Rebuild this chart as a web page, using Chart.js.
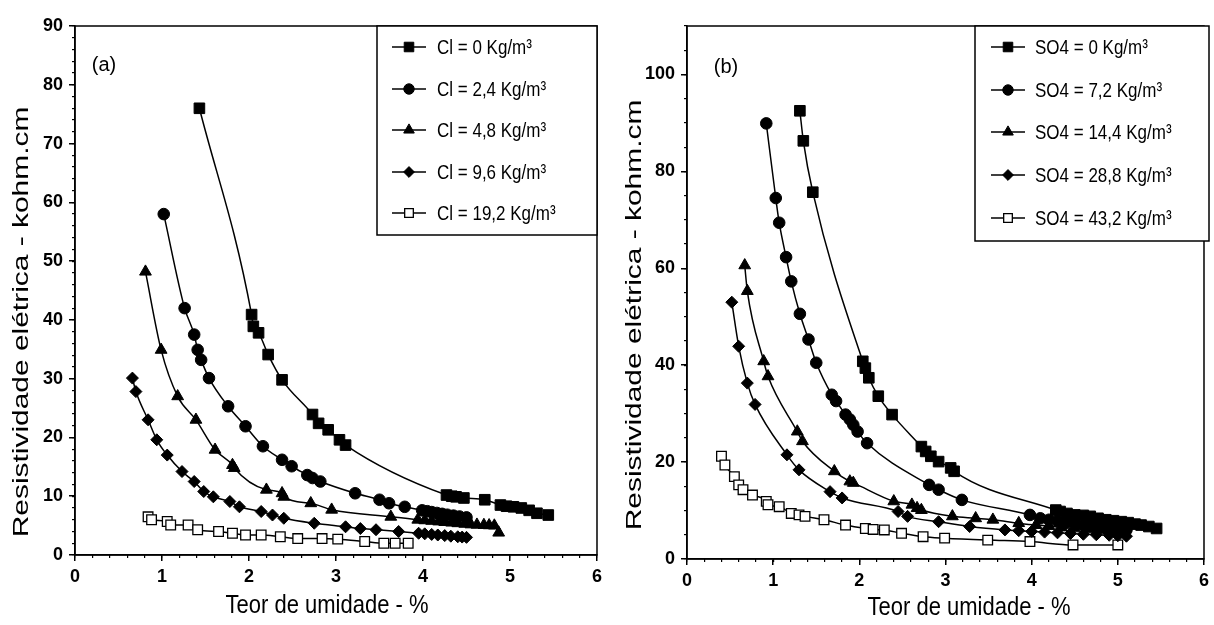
<!DOCTYPE html>
<html>
<head>
<meta charset="utf-8">
<script src="https://cdn.jsdelivr.net/npm/chart.js@4.4.1/dist/chart.umd.min.js"></script>
<style>
  body { margin: 0; background: #fff; }
  #caixaA { position: absolute; left: 0; top: 0; }
  #caixaB { position: absolute; left: 607px; top: 0; }
</style>
</head>
<body>
<div id="caixaA"><canvas id="grafCloreto" width="607" height="625"></canvas></div>
<div id="caixaB"><canvas id="grafSulfato" width="607" height="625"></canvas></div>
<script>
// ---- (a) cloretos ----
const rotulosCl = ['Cl = 0 Kg/m³', 'Cl = 2,4 Kg/m³', 'Cl = 4,8 Kg/m³', 'Cl = 9,6 Kg/m³', 'Cl = 19,2 Kg/m³'];

const cl0X = [1.43, 2.03, 2.05, 2.11, 2.22, 2.38, 2.73, 2.80, 2.91, 3.04, 3.11, 4.27, 4.33, 4.38, 4.47, 4.71, 4.89, 4.96, 5.04, 5.13, 5.22, 5.31, 5.44];
const cl0Y = [76, 40.9, 38.9, 37.8, 34.1, 29.8, 23.9, 22.4, 21.3, 19.6, 18.7, 10.2, 10.0, 9.9, 9.7, 9.4, 8.5, 8.3, 8.2, 8.0, 7.6, 7.1, 6.8];

const cl24X = [1.02, 1.26, 1.37, 1.41, 1.45, 1.54, 1.76, 1.96, 2.16, 2.38, 2.49, 2.67, 2.73, 2.82, 3.22, 3.50, 3.61, 3.79, 3.99, 4.05, 4.10, 4.16, 4.22, 4.28, 4.35, 4.42, 4.50];
const cl24Y = [58, 42, 37.5, 34.9, 33.2, 30.1, 25.3, 21.9, 18.5, 16.2, 15.1, 13.6, 13.1, 12.5, 10.5, 9.4, 8.8, 8.2, 7.6, 7.45, 7.3, 7.15, 7.0, 6.85, 6.7, 6.55, 6.4];

const cl48X = [0.81, 0.99, 1.18, 1.39, 1.61, 1.81, 1.83, 2.20, 2.38, 2.40, 2.71, 2.95, 3.63, 3.94, 4.02, 4.10, 4.18, 4.25, 4.33, 4.40, 4.48, 4.55, 4.62, 4.70, 4.76, 4.82, 4.87];
const cl48Y = [48.2, 34.9, 27.0, 23.0, 17.9, 15.3, 14.8, 11.1, 10.5, 9.9, 8.8, 7.7, 6.5, 6.0, 5.9, 5.8, 5.7, 5.6, 5.5, 5.4, 5.3, 5.2, 5.15, 5.1, 5.05, 5.0, 3.8];

const cl96X = [0.66, 0.70, 0.84, 0.94, 1.06, 1.23, 1.37, 1.48, 1.59, 1.78, 1.89, 2.14, 2.27, 2.40, 2.75, 3.11, 3.28, 3.46, 3.72, 3.95, 4.02, 4.10, 4.17, 4.25, 4.32, 4.40, 4.45, 4.50];
const cl96Y = [30.1, 27.8, 23.0, 19.6, 17.0, 14.2, 12.5, 10.8, 9.9, 9.1, 8.2, 7.4, 6.8, 6.25, 5.4, 4.8, 4.5, 4.3, 4.0, 3.7, 3.6, 3.5, 3.4, 3.3, 3.2, 3.1, 3.05, 3.0];

const cl192X = [0.84, 0.88, 1.06, 1.10, 1.30, 1.41, 1.65, 1.81, 1.96, 2.14, 2.36, 2.56, 2.84, 3.02, 3.33, 3.55, 3.68, 3.83];
const cl192Y = [6.5, 6.0, 5.7, 5.1, 5.1, 4.3, 4.0, 3.7, 3.4, 3.4, 3.1, 2.8, 2.8, 2.7, 2.3, 2.0, 2.0, 2.0];

// ---- (b) sulfatos ----
const rotulosSO4 = ['SO4 = 0 Kg/m³', 'SO4 = 7,2 Kg/m³', 'SO4 = 14,4 Kg/m³', 'SO4 = 28,8 Kg/m³', 'SO4 = 43,2 Kg/m³'];

const so0X = [1.31, 1.35, 1.46, 2.04, 2.07, 2.11, 2.22, 2.38, 2.72, 2.77, 2.83, 2.92, 3.06, 3.10, 4.28, 4.33, 4.41, 4.50, 4.60, 4.68, 4.77, 4.86, 4.95, 5.04, 5.12, 5.20, 5.27, 5.36, 5.45];
const so0Y = [92.5, 86.3, 75.7, 40.8, 39.4, 37.4, 33.6, 29.8, 23.2, 22.2, 21.2, 20.1, 18.8, 18.1, 10.1, 9.8, 9.4, 9.1, 9.0, 8.8, 8.4, 8.1, 7.9, 7.7, 7.5, 7.2, 7.0, 6.7, 6.3];

const so72X = [0.92, 1.03, 1.07, 1.15, 1.21, 1.31, 1.41, 1.50, 1.68, 1.73, 1.84, 1.89, 1.93, 1.98, 2.09, 2.81, 2.92, 3.19, 3.98, 4.10, 4.20, 4.30, 4.40, 4.50, 4.60, 4.70, 4.80, 4.90, 5.00, 5.10];
const so72Y = [89.9, 74.5, 69.4, 62.3, 57.3, 50.6, 45.3, 40.5, 33.9, 32.6, 29.8, 28.8, 27.7, 26.3, 23.9, 15.3, 14.3, 12.2, 9.1, 8.4, 8.1, 7.8, 7.5, 7.2, 7.0, 6.8, 6.6, 6.4, 6.2, 6.0];

const so144X = [0.67, 0.70, 0.89, 0.94, 1.28, 1.34, 1.71, 1.89, 1.93, 2.40, 2.61, 2.67, 2.72, 3.08, 3.35, 3.55, 3.85, 4.05, 4.20, 4.35, 4.50, 4.65, 4.80, 4.90, 5.00];
const so144Y = [60.6, 55.3, 40.8, 37.7, 26.3, 24.3, 18.1, 16.0, 15.7, 11.9, 11.2, 10.5, 10.1, 8.8, 8.4, 8.1, 7.4, 7.0, 6.8, 6.5, 6.3, 6.1, 6.0, 5.9, 5.8];

const so288X = [0.52, 0.60, 0.70, 0.79, 1.16, 1.30, 1.66, 1.80, 2.45, 2.56, 2.92, 3.28, 3.69, 3.85, 4.00, 4.15, 4.30, 4.45, 4.60, 4.75, 4.90, 5.00, 5.10];
const so288Y = [53.0, 43.9, 36.3, 31.9, 21.5, 18.4, 13.9, 12.6, 9.8, 8.8, 7.7, 6.7, 6.0, 5.85, 5.7, 5.55, 5.4, 5.25, 5.1, 5.0, 4.9, 4.8, 4.7];

const so432X = [0.40, 0.44, 0.55, 0.60, 0.65, 0.76, 0.92, 0.94, 1.07, 1.21, 1.30, 1.37, 1.59, 1.84, 2.07, 2.16, 2.29, 2.49, 2.74, 2.99, 3.49, 3.98, 4.48, 5.00];
const so432Y = [21.2, 19.4, 17.0, 15.3, 14.3, 13.2, 11.9, 11.2, 10.8, 9.4, 9.1, 8.8, 8.1, 7.0, 6.3, 6.1, 6.0, 5.3, 4.6, 4.3, 3.9, 3.6, 2.9, 2.9];

const tituloX = 'Teor de umidade - %';
const tituloY = 'Resistividade elétrica - kohm.cm';

const fonte = "'Liberation Sans', Arial, sans-serif";

function serie(rotulo, xs, ys, estilo, raio, vazado) {
    return {
        label: rotulo,
        data: xs.map((x, i) => ({x: x, y: ys[i]})),
        showLine: true,
        borderColor: '#000',
        borderWidth: 1.5,
        cubicInterpolationMode: 'monotone',
        pointStyle: estilo,
        pointRadius: raio,
        pointHoverRadius: raio,
        pointBackgroundColor: vazado ? '#fff' : '#000',
        pointBorderColor: '#000',
        pointBorderWidth: vazado ? 1.3 : 1,
    }
}

// moldura em volta da area do grafico
const moldura = {
    id: 'moldura',
    afterDatasetsDraw(chart) {
        const {ctx, chartArea: a} = chart;
        ctx.save();
        ctx.strokeStyle = '#000';
        ctx.lineWidth = 1.5;
        ctx.strokeRect(a.left, a.top, a.right - a.left, a.bottom - a.top);
        ctx.restore();
    }
};

// legenda desenhada dentro do grafico, no canto superior direito
const legendaInterna = {
    id: 'legendaInterna',
    afterDraw(chart, args, op) {
        const ctx = chart.ctx;
        ctx.save();
        ctx.fillStyle = '#fff';
        ctx.fillRect(op.x0, op.y0, op.x1 - op.x0, op.y1 - op.y0);
        ctx.strokeStyle = '#000';
        ctx.lineWidth = 1.5;
        ctx.strokeRect(op.x0, op.y0, op.x1 - op.x0, op.y1 - op.y0);
        chart.data.datasets.forEach((ds, i) => {
            const y = op.linhas[i];
            ctx.beginPath();
            ctx.moveTo(op.xMarca - 17, y);
            ctx.lineTo(op.xMarca + 17, y);
            ctx.strokeStyle = '#000';
            ctx.lineWidth = 1.5;
            ctx.stroke();
            ctx.fillStyle = ds.pointBackgroundColor;
            ctx.lineWidth = ds.pointBorderWidth;
            Chart.helpers.drawPoint(ctx, {pointStyle: ds.pointStyle, radius: ds.pointRadius * 0.9, borderWidth: ds.pointBorderWidth, rotation: 0}, op.xMarca, y);
            // texto levemente esticado na vertical
            ctx.save();
            ctx.translate(op.xTexto, y + 1);
            ctx.scale(1, 1.18);
            ctx.fillStyle = '#000';
            ctx.font = '17px ' + fonte;
            ctx.textAlign = 'left';
            ctx.textBaseline = 'middle';
            ctx.fillText(ds.label, 0, 0);
            ctx.restore();
        });
        ctx.restore();
    }
};

// "(a)"/"(b)" e titulos dos eixos
const textosPainel = {
    id: 'textosPainel',
    afterDraw(chart, args, op) {
        const ctx = chart.ctx;
        ctx.save();
        ctx.fillStyle = '#000';
        ctx.textAlign = 'center';
        ctx.textBaseline = 'middle';

        ctx.font = '20px ' + fonte;
        ctx.fillText(op.marca, op.xMarca, op.yMarca);

        ctx.save();
        ctx.translate(op.xTitX, op.yTitX);
        ctx.scale(1, 1.15);
        ctx.font = '22px ' + fonte;
        ctx.fillText(tituloX, 0, 0);
        ctx.restore();

        ctx.save();
        ctx.translate(op.xTitY, op.yTitY);
        ctx.rotate(-Math.PI / 2);
        ctx.scale(1.36, 1);
        ctx.font = '22px ' + fonte;
        ctx.fillText(tituloY, 0, 0);
        ctx.restore();

        ctx.restore();
    }
};

function escalas(yMax, yPasso, yMenor, larguraY, alturaX) {
    const tick = {color: '#000', font: {family: fonte, size: 18, weight: 'bold'}};
    return {
        x: {
            type: 'linear', position: 'bottom', min: 0, max: 6, weight: 1,
            ticks: Object.assign({stepSize: 1, padding: 5}, tick),
            grid: {drawOnChartArea: false, tickLength: 6, color: '#000', lineWidth: 1.5},
            border: {color: '#000', width: 1.5},
            afterFit: s => { s.height = alturaX; }
        },
        xMenor: {
            type: 'linear', position: 'bottom', min: 0, max: 6, weight: 0,
            ticks: {display: false, stepSize: 0.2},
            grid: {drawOnChartArea: false, tickLength: 3, color: '#000', lineWidth: 1.2},
            border: {display: false},
            afterFit: s => { s.height = 0; }
        },
        y: {
            type: 'linear', position: 'left', min: 0, max: yMax, weight: 1,
            ticks: Object.assign({stepSize: yPasso, padding: 6, includeBounds: false}, tick),
            grid: {drawOnChartArea: false, tickLength: 6, color: '#000', lineWidth: 1.5},
            border: {color: '#000', width: 1.5},
            afterFit: s => { s.width = larguraY; }
        },
        yMenor: {
            type: 'linear', position: 'left', min: 0, max: yMax, weight: 0,
            ticks: {display: false, stepSize: yMenor},
            grid: {drawOnChartArea: false, tickLength: 3, color: '#000', lineWidth: 1.2},
            border: {display: false},
            afterFit: s => { s.width = 0; }
        }
    };
}

function montar(idCanvas, datasets, esc, pad, legenda, textos) {
    datasets.forEach(d => { d.xAxisID = 'x'; d.yAxisID = 'y'; });
    return new Chart(document.getElementById(idCanvas), {
        type: 'scatter',
        data: {datasets: datasets},
        options: {
            responsive: false,
            animation: false,
            layout: {padding: pad},
            scales: esc,
            plugins: {
                legend: {display: false},
                tooltip: {enabled: false},
                legendaInterna: legenda,
                textosPainel: textos
            }
        },
        plugins: [moldura, legendaInterna, textosPainel]
    });
}

montar('grafCloreto', [
    serie(rotulosCl[0], cl0X, cl0Y, 'rect', 7.5, false),
    serie(rotulosCl[1], cl24X, cl24Y, 'circle', 5.8, false),
    serie(rotulosCl[2], cl48X, cl48Y, 'triangle', 6.8, false),
    serie(rotulosCl[3], cl96X, cl96Y, 'rectRot', 6, false),
    serie(rotulosCl[4], cl192X, cl192Y, 'rect', 6.8, true)
], escalas(90, 10, 2, 75, 70), {left: 0, top: 26, right: 10, bottom: 0},
    {x0: 377, y0: 26, x1: 597, y1: 235, linhas: [47, 89, 130, 172, 213], xMarca: 409, xTexto: 437},
    {marca: '(a)', xMarca: 104, yMarca: 65, xTitX: 327, yTitX: 606, xTitY: 22, yTitY: 322});

montar('grafSulfato', [
    serie(rotulosSO4[0], so0X, so0Y, 'rect', 7.5, false),
    serie(rotulosSO4[1], so72X, so72Y, 'circle', 5.8, false),
    serie(rotulosSO4[2], so144X, so144Y, 'triangle', 6.8, false),
    serie(rotulosSO4[3], so288X, so288Y, 'rectRot', 6, false),
    serie(rotulosSO4[4], so432X, so432Y, 'rect', 6.8, true)
], escalas(110, 20, 5, 80, 66), {left: 0, top: 26, right: 5, bottom: 0},
    {x0: 368, y0: 26, x1: 602, y1: 241, linhas: [47, 90, 132, 175, 218], xMarca: 401, xTexto: 428},
    {marca: '(b)', xMarca: 119, yMarca: 67, xTitX: 362, yTitX: 608, xTitY: 28, yTitY: 315});
</script>
</body>
</html>
